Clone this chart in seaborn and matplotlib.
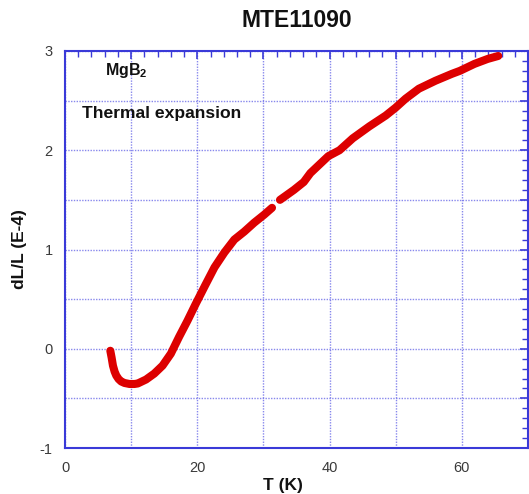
import matplotlib
matplotlib.use("Agg")
import matplotlib.pyplot as plt
import seaborn as sns
import pandas as pd
from matplotlib.ticker import MultipleLocator, FuncFormatter

sns.set_theme(style="white")
plt.rcParams['font.family'] = ['Liberation Sans', 'DejaVu Sans']

# segment 1 (before the small gap near 31.5 K)
temp_a = [6.85, 7.05, 7.25, 7.5, 7.75, 8.1, 8.5, 9.0, 9.75, 10.5, 11.0, 12.25, 13.5, 14.75,
          16.0, 17.25, 18.5, 19.75, 21.2, 22.6, 24.1, 25.6, 27.1, 28.6, 30.1, 31.3]
dll_a = [-0.02, -0.09, -0.17, -0.23, -0.27, -0.305, -0.33, -0.345, -0.355, -0.355, -0.35,
         -0.31, -0.25, -0.17, -0.05, 0.12, 0.28, 0.45, 0.64, 0.82, 0.97, 1.10, 1.18,
         1.27, 1.35, 1.42]
# segment 2 (after the gap)
temp_b = [32.5, 34.6, 36.1, 37.1, 39.8, 41.5, 43.5, 46.0, 48.5, 50.0, 51.5,
          53.5, 56.0, 58.5, 59.7, 61.9, 63.9, 65.5]
dll_b = [1.50, 1.60, 1.68, 1.77, 1.94, 2.00, 2.12, 2.24, 2.35, 2.43, 2.52,
         2.62, 2.70, 2.77, 2.80, 2.87, 2.92, 2.95]

x_ticklabels = ["0", "20", "40", "60"]
y_ticklabels = ["-1", "0", "1", "2", "3"]

W, H = 529, 494
fig = plt.figure(figsize=(W / 100, H / 100), dpi=100)
ax = fig.add_axes([65 / W, 1 - 448 / H, (528 - 65) / W, (448 - 51) / H])

blue = '#3a3ad8'
red = '#dd0000'
for tx, ty in ((temp_a, dll_a), (temp_b, dll_b)):
    df = pd.DataFrame({'T': tx, 'dLL': ty})
    sns.lineplot(data=df, x='T', y='dLL', ax=ax, color=red, linewidth=5.8,
                 sort=False, solid_capstyle='round', solid_joinstyle='round')

ax.set_xlim(0, 70)
ax.set_ylim(-1, 3)
ax.xaxis.set_major_locator(MultipleLocator(10))
ax.xaxis.set_minor_locator(MultipleLocator(2))
ax.yaxis.set_major_locator(MultipleLocator(0.5))
ax.yaxis.set_minor_locator(MultipleLocator(0.1))

def fmt_x(v, p):
    s = str(int(round(v)))
    return s if abs(v - round(v)) < 1e-6 and s in x_ticklabels else ""

def fmt_y(v, p):
    s = str(int(round(v)))
    return s if abs(v - round(v)) < 1e-6 and s in y_ticklabels else ""

ax.xaxis.set_major_formatter(FuncFormatter(fmt_x))
ax.yaxis.set_major_formatter(FuncFormatter(fmt_y))

ax.grid(True, which='major', color='#6a6ae8', linestyle=(0, (1, 1)), linewidth=1.0, alpha=0.8)
ax.tick_params(which='both', direction='in', color=blue, top=True, right=True,
               labelcolor='#3a3a3a', labelsize=10.5)
ax.tick_params(which='major', length=6, width=1.2)
ax.tick_params(which='minor', length=4, width=1.0)
ax.tick_params(axis='x', pad=9)
ax.tick_params(axis='y', pad=9)
for s in ax.spines.values():
    s.set_color(blue)
    s.set_linewidth(1.5)

ax.set_xlabel('T (K)', fontsize=12.5, fontweight='bold', labelpad=3, color='#111111')
ax.xaxis.set_label_coords((283 - 65) / 463, -0.075)
ax.set_ylabel('dL/L (E-4)', fontsize=12.5, fontweight='bold', labelpad=9, color='#111111')
ax.set_title('MTE11090', fontsize=16.5, fontweight='bold', pad=17, color='#111111')

ax.text(6.1, 2.80, r'MgB$_\mathregular{2}$', fontsize=11.5, fontweight='bold',
        ha='left', va='center', color='#111111')
ax.text(2.6, 2.37, 'Thermal expansion', fontsize=12.6, fontweight='bold',
        ha='left', va='center', color='#111111')

fig.savefig('out.png', dpi=100)
